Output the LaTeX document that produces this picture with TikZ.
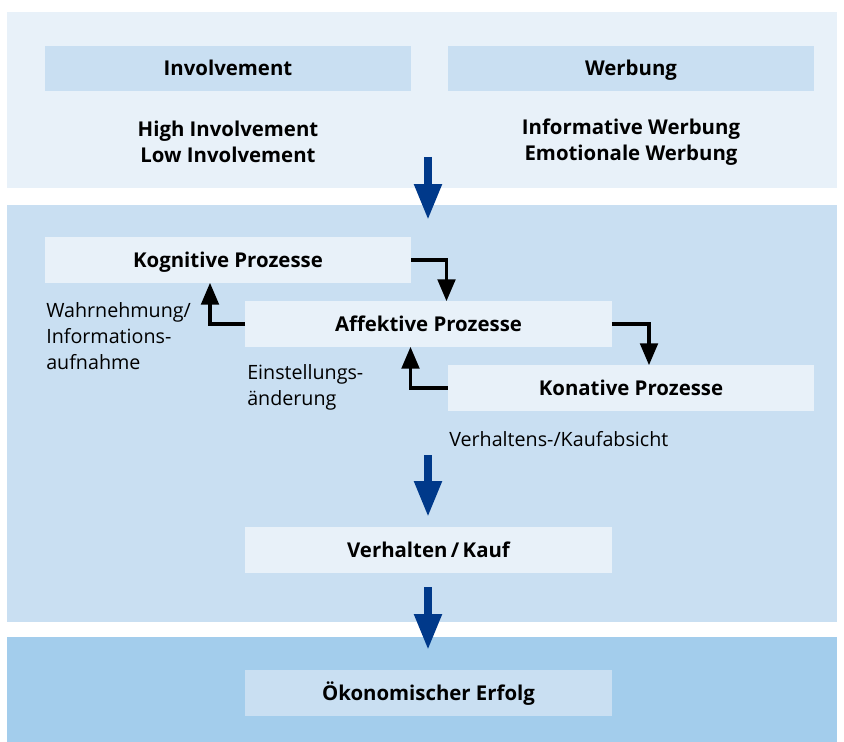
\documentclass[tikz,border=0pt]{standalone}
\usepackage{fontspec}
\setmainfont{Open Sans}
\usetikzlibrary{arrows.meta}
\definecolor{paleblue}{RGB}{232,241,249}
\definecolor{midblue}{RGB}{201,223,242}
\definecolor{deepblue}{RGB}{163,205,236}
\definecolor{arrowblue}{RGB}{0,57,138}
\newcommand\diagfont{\fontsize{14}{18.3}\selectfont}
\newcommand\boldfont{\fontsize{14.5}{18.3}\selectfont\bfseries}
\begin{document}
\begin{tikzpicture}[x=0.025cm,y=-0.025cm,
    stage box/.style={minimum width=9.15cm,minimum height=1.125cm,inner sep=0pt,
      text height=10.4pt,text depth=0pt,font=\boldfont},
    pale box/.style={stage box,fill=paleblue},
    mid box/.style={stage box,fill=midblue},
    list text/.style={align=center,font=\boldfont},
    note text/.style={align=left,anchor=west,inner sep=0pt,font=\diagfont},
    loop arrow/.style={line width=2.5pt,-{Triangle[length=15.6pt,width=12.5pt]}},
    main arrow/.style={arrowblue,line width=5.7pt,-{Triangle[length=25.6pt,width=18.5pt]}}]
    \useasboundingbox (0,0) rectangle (844,742);

    % panels
    \fill[paleblue] (7,12) rectangle (837,188);
    \fill[midblue] (7,205) rectangle (837,622);
    \fill[deepblue] (7,637) rectangle (837,742);

    \node[mid box] at (228,68.5) (inv) {Involvement};
    \node[mid box] at (631,68.5) (werb) {Werbung};
    \node[list text] at (228,142) (invlist) {High Involvement\\Low Involvement};
    \node[list text] at (631,142) (werblist) {Informative Werbung\\Emotionale Werbung};

    \node[pale box] at (228,260) (kog) {Kognitive Prozesse};
    \node[pale box] at (428.5,324) (aff) {Affektive Prozesse};
    \node[pale box] at (631,388) (kon) {Konative Prozesse};
    \node[pale box] at (428.5,550) (verh) {Verhalten\,/\,Kauf};
    \node[mid box] at (428.5,693) (erf) {Ökonomischer Erfolg};

    \node[note text] at (46,336) (wahr) {Wahrnehmung/\\Informations-\\aufnahme};
    \node[note text] at (247,387.5) (einst) {Einstellungs-\\änderung};
    \node[note text] at (449,439) (absicht) {Verhaltens-/Kaufabsicht};

    \coordinate (a1) at (428,157);
    \coordinate (b1) at (428,220);
    \coordinate (a2) at (428,455);
    \coordinate (b2) at (428,517);
    \coordinate (a3) at (428,587);
    \coordinate (b3) at (428,650);

    \draw[loop arrow] (kog.east) -| ([xshift=0.45cm]aff.north);
    \draw[loop arrow] (aff.east) -| ([xshift=0.45cm]kon.north);
    \draw[loop arrow] (aff.west) -| ([xshift=-0.45cm]kog.south);
    \draw[loop arrow] (kon.west) -| ([xshift=-0.45cm]aff.south);

    \draw[main arrow] (a1) -- (b1);
    \draw[main arrow] (a2) -- (b2);
    \draw[main arrow] (a3) -- (b3);
\end{tikzpicture}
\end{document}
